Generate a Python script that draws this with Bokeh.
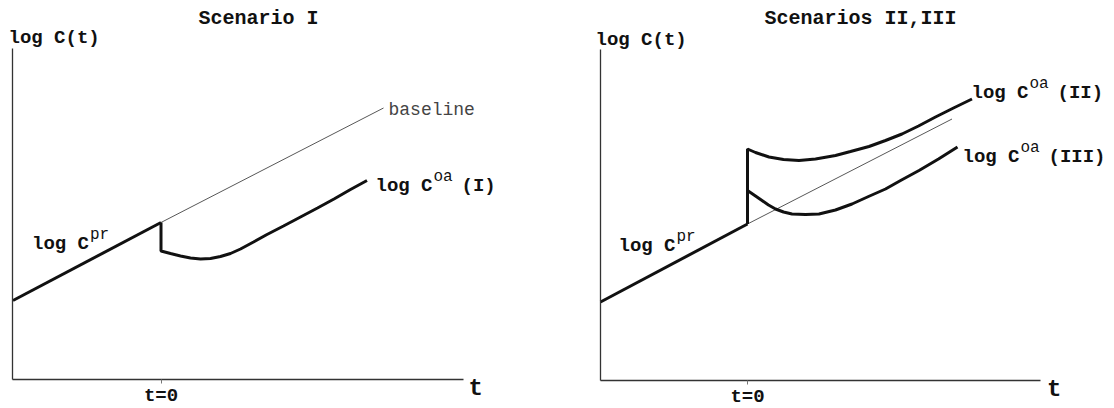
from bokeh.plotting import figure
from bokeh.layouts import row
from bokeh.models import Label, FixedTicker, Range1d
from bokeh.embed import file_html
from bokeh.resources import INLINE

FONT = "Liberation Mono"

# ---------------- data (t and log C in arbitrary units) ----------------
# Scenario I
t_pr_1 = [-2.96, 0.0]
c_pr_1 = [1.58, 3.14]
t_base_1 = [0.0, 4.45]
c_base_1 = [3.14, 5.43]
t_oa_1 = [0.0, 0.0, 0.19, 0.39, 0.59, 0.79, 0.99, 1.19, 1.39, 1.59, 1.85, 2.12,
          2.45, 2.79, 3.13, 3.46, 3.79, 4.12]
c_oa_1 = [3.14, 2.57, 2.52, 2.47, 2.43, 2.41, 2.42, 2.46, 2.52, 2.61, 2.75, 2.90,
          3.07, 3.25, 3.43, 3.61, 3.80, 3.98]

# Scenarios II, III
t_pr_2 = [-2.94, 0.0]
c_pr_2 = [1.57, 3.13]
t_base_2 = [0.0, 4.09]
c_base_2 = [3.13, 5.23]
t_oa_II = [0.0, 0.0, 0.16, 0.43, 0.72, 1.03, 1.36, 1.76, 2.06, 2.43, 2.76, 3.09,
           3.42, 3.76, 4.12, 4.49]
c_oa_II = [3.13, 4.63, 4.56, 4.47, 4.42, 4.40, 4.43, 4.50, 4.58, 4.68, 4.80, 4.93,
           5.09, 5.27, 5.45, 5.63]
t_oa_III = [0.0, 0.16, 0.29, 0.42, 0.56, 0.72, 0.89, 1.16, 1.43, 1.76, 2.09, 2.42,
            2.76, 3.08, 3.43, 3.82, 4.20]
c_oa_III = [3.80, 3.69, 3.60, 3.51, 3.43, 3.37, 3.33, 3.32, 3.33, 3.41, 3.53, 3.68,
            3.83, 4.01, 4.20, 4.43, 4.67]

tick_positions = [0]
tick_label = "t=0"
titles = ["Scenario I", "Scenarios II,III"]
y_title = "log C(t)"
x_title = "t"

AX = "#333333"
INK = "#111111"
PX = 50.0  # pixels per data unit


def base_fig(width, x0_px, y0_px, x_axis_end, y_axis_top, t_left):
    # frame = whole canvas; data origin (t=0, logC=0) at pixel (x0_px, y0_px)
    xr = Range1d(-x0_px / PX, (width - x0_px) / PX)
    yr = Range1d((y0_px - 408) / PX, y0_px / PX)
    p = figure(width=width, height=408, x_range=xr, y_range=yr,
               output_backend="svg", toolbar_location=None,
               min_border_left=0, min_border_right=0, min_border_top=0, min_border_bottom=0)
    p.grid.visible = False
    p.outline_line_color = None
    p.background_fill_color = "white"
    p.border_fill_color = "white"
    # x axis drawn at logC = 0, single tick at t=0
    xa = p.xaxis[0]
    xa.fixed_location = 0
    xa.bounds = (t_left, x_axis_end)
    xa.ticker = FixedTicker(ticks=tick_positions)
    xa.major_label_overrides = {0: tick_label}
    xa.major_label_text_font = FONT
    xa.major_label_text_font_size = "19px"
    xa.major_label_text_font_style = "bold"
    xa.major_label_text_color = INK
    xa.major_label_standoff = 1
    xa.major_tick_out = 4
    xa.major_tick_in = 0
    xa.minor_tick_out = 0
    xa.minor_tick_in = 0
    xa.axis_line_color = AX
    xa.axis_line_width = 1.3
    xa.major_tick_line_color = "#777777"
    # y axis: line only, at the left end of the time axis
    ya = p.yaxis[0]
    ya.fixed_location = t_left
    ya.bounds = (0, y_axis_top)
    ya.ticker = FixedTicker(ticks=[])
    ya.major_tick_out = 0
    ya.major_tick_in = 0
    ya.minor_tick_out = 0
    ya.minor_tick_in = 0
    ya.major_label_text_font_size = "0px"
    ya.major_label_standoff = 0
    ya.axis_line_color = AX
    ya.axis_line_width = 1.3
    return p


def lab(p, x, y, text, size="19px", bold=True, align="left", color=INK, xo=0, yo=0):
    p.add_layout(Label(x=x, y=y, text=text, text_font=FONT, text_font_size=size,
                       text_font_style="bold" if bold else "normal", text_align=align,
                       text_baseline="alphabetic", text_color=color, x_offset=xo, y_offset=yo))


def supl(p, x, y, sup, tail=None, tail_off=86):
    lab(p, x, y, "log C")
    lab(p, x, y, sup, size="16px", bold=False, xo=58, yo=9)
    if tail:
        lab(p, x, y, tail, xo=tail_off)


# ---------------- Scenario I ----------------
p1 = base_fig(585, 160.5, 379, 6.044, 6.62, -2.97)
p1.line(t_base_1, c_base_1, line_color="#444444", line_width=0.9)
p1.line(t_pr_1, c_pr_1, line_color=INK, line_width=3)
p1.line(t_oa_1, c_oa_1, line_color=INK, line_width=3)

lab(p1, 1.95, 7.22, titles[0], size="20px", align="center")
lab(p1, -3.05, 6.83, y_title)
lab(p1, 6.15, -0.18, x_title, size="24px")
lab(p1, 4.55, 5.39, "baseline", size="18px", bold=False, color="#444444")
supl(p1, -2.58, 2.71, "pr")
supl(p1, 4.29, 3.88, "oa", "(I)")

# ---------------- Scenarios II, III ----------------
p2 = base_fig(529, 747 - 585, 380, 5.86, 6.62, -2.94)
p2.line(t_base_2, c_base_2, line_color="#444444", line_width=0.9)
p2.line(t_pr_2, c_pr_2, line_color=INK, line_width=3)
p2.line(t_oa_II, c_oa_II, line_color=INK, line_width=3)
p2.line(t_oa_III, c_oa_III, line_color=INK, line_width=3)

lab(p2, 2.26, 7.25, titles[1], size="20px", align="center")
lab(p2, -3.04, 6.81, y_title)
lab(p2, 5.99, -0.17, x_title, size="24px")
supl(p2, -2.58, 2.70, "pr")
supl(p2, 4.48, 5.75, "oa", "(II)")
supl(p2, 4.30, 4.48, "oa", "(III)")

layout = row(p1, p2)
open("out.html", "w").write(file_html(layout, INLINE))
